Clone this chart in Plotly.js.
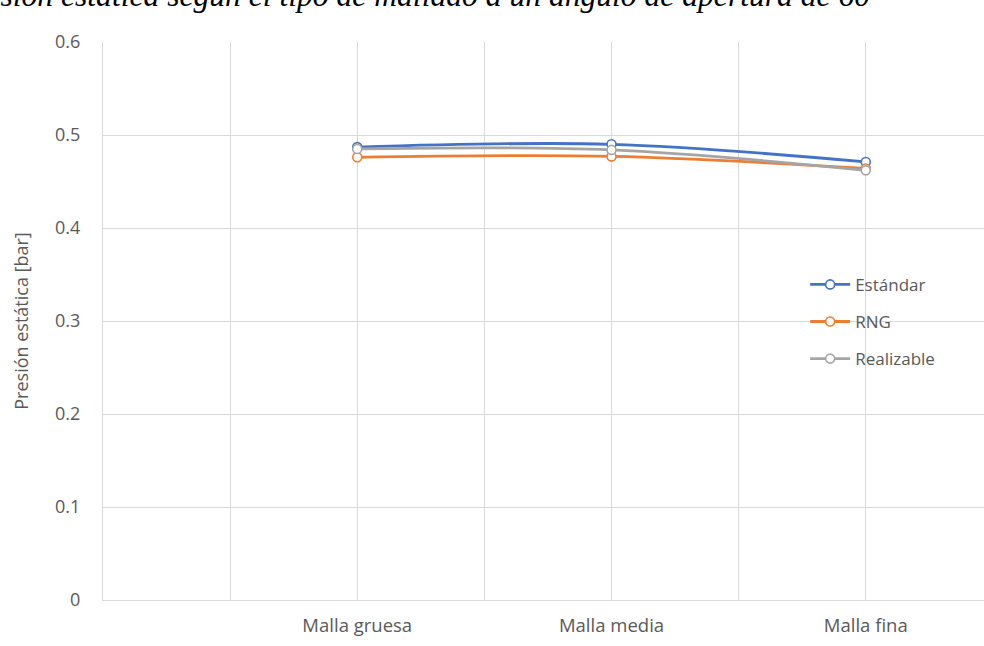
<!DOCTYPE html>
<html>
<head>
<meta charset="utf-8">
<script src="https://cdn.plot.ly/plotly-3.0.1.min.js"></script>
<style>
  html, body { margin: 0; padding: 0; background: #ffffff; }
  #chart { width: 984px; height: 646px; }
</style>
</head>
<body>
<div id="chart"></div>
<script>
// Mesh types along the horizontal axis
const categories = ["Malla gruesa", "Malla media", "Malla fina"];

// Static pressure [bar] per turbulence model
const estandar    = [0.487, 0.490, 0.471];
const rng         = [0.476, 0.477, 0.464];
const realizable  = [0.485, 0.484, 0.462];

const seriesNames  = ["Estándar", "RNG", "Realizable"];
const seriesColors = ["#4472C4", "#ED7D31", "#A5A5A5"];

const yTicks = [0, 0.1, 0.2, 0.3, 0.4, 0.5, 0.6];
const yTickText = ["0", "0.1", "0.2", "0.3", "0.4", "0.5", "0.6"];

const titleText = "Presión estática según el tipo de mallado a un ángulo de apertura de 60";
const yTitle = "Presión estática [bar]";

// category positions on the axis (first slot left empty)
const xPos = categories.map((_, i) => i + 1);

const font = "'Open Sans', 'Noto Sans', sans-serif";
const grey = "#595959";
const gridColor = "#d9d9d9";

const traces = [estandar, rng, realizable].map((vals, i) => ({
  type: "scatter",
  mode: "lines+markers",
  name: seriesNames[i],
  legendgroup: "g" + i,
  x: xPos,
  y: vals,
  line: { color: seriesColors[i], width: 2.8, shape: "spline", smoothing: 1 },
  marker: {
    symbol: "circle",
    size: 9,
    color: "#ffffff",
    line: { color: seriesColors[i], width: 1.6 }
  },
  hoverinfo: "skip"
}));

const layout = {
  width: 984,
  height: 646,
  margin: { l: 103, r: 0, t: 42, b: 46, pad: 0 },
  paper_bgcolor: "#ffffff",
  plot_bgcolor: "#ffffff",
  font: { family: font, size: 17, color: grey },
  showlegend: true,
  legend: {
    x: 0.797,
    xanchor: "left",
    y: 0.597,
    yanchor: "top",
    bgcolor: "rgba(0,0,0,0)",
    font: { family: font, size: 17, color: grey },
    traceorder: "grouped",
    tracegroupgap: 12,
    itemwidth: 40
  },
  xaxis: {
    type: "linear",
    range: [0, 3.465],
    tickmode: "array",
    tickvals: xPos,
    ticktext: categories,
    ticks: "",
    showgrid: true,
    gridcolor: gridColor,
    gridwidth: 1,
    minor: {
      tickmode: "linear",
      tick0: 0,
      dtick: 0.5,
      showgrid: true,
      gridcolor: gridColor,
      gridwidth: 1,
      ticks: ""
    },
    showline: true,
    linecolor: gridColor,
    linewidth: 1,
    zeroline: false,
    ticklabelstandoff: 9,
    tickfont: { family: font, size: 18.5, color: grey },
    fixedrange: true
  },
  yaxis: {
    range: [0, 0.6],
    tickmode: "array",
    tickvals: yTicks,
    ticktext: yTickText,
    ticks: "",
    showgrid: true,
    gridcolor: gridColor,
    gridwidth: 1,
    showline: true,
    linecolor: gridColor,
    linewidth: 1,
    zeroline: false,
    ticklabelstandoff: 18,
    tickfont: { family: font, size: 18, color: grey },
    title: {
      text: yTitle,
      font: { family: font, size: 18, color: grey },
      standoff: 21
    },
    fixedrange: true
  },
  annotations: [{
    text: titleText,
    xref: "paper",
    yref: "paper",
    x: 0.873,
    y: 1.0475,
    xanchor: "right",
    yanchor: "bottom",
    showarrow: false,
    font: { family: "'Liberation Serif', 'DejaVu Serif', serif", size: 31.6, color: "#000000", style: "italic" }
  }]
};

Plotly.newPlot("chart", traces, layout, { staticPlot: true, displayModeBar: false });
</script>
</body>
</html>
